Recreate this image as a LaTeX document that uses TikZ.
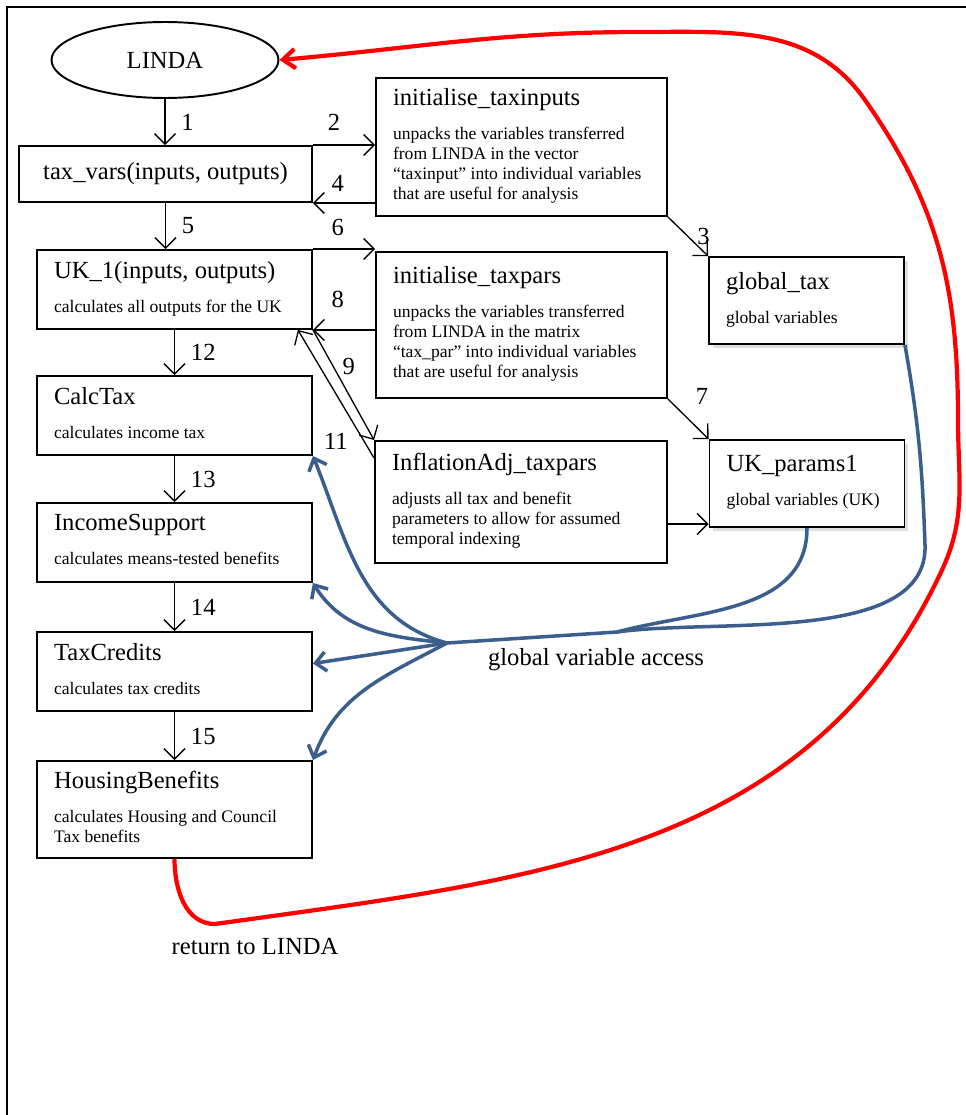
\documentclass[tikz,border=0pt]{standalone}
\usepackage{fontspec}
\setmainfont{Liberation Serif}
\usetikzlibrary{arrows.meta,shapes.geometric,shadows}
\definecolor{accblue}{RGB}{59,94,140}
\tikzstyle{func}=[draw,fill=white,line width=1.1pt,inner xsep=0.34cm,inner ysep=0pt,align=left]
\tikzstyle{colbox}=[func,text width=4.82cm,minimum height=1.58cm]
\tikzstyle{initbox}=[func,text width=5.14cm]
\tikzstyle{globbox}=[func,text width=3.22cm,minimum height=1.74cm,drop shadow={shadow xshift=2pt,shadow yshift=-2pt,opacity=0.25}]
\tikzstyle{flow}=[draw,line width=0.75pt,-{Straight Barb[length=6pt,width=12pt]}]
\tikzstyle{access}=[draw=accblue,line width=2pt,-{Straight Barb[length=6pt,width=11pt]}]
\tikzstyle{retarrow}=[draw=red,line width=2.4pt,-{Straight Barb[length=7pt,width=11pt]}]
\tikzstyle{lbl}=[font=\fontsize{14}{16}\selectfont,inner sep=2pt]
\newcommand{\boxtxt}[2]{{\fontsize{14}{16}\selectfont\spaceskip=0pt\xspaceskip=0pt #1\par}\vspace{8pt}%
  {\fontsize{10}{11.3}\selectfont\spaceskip=0pt\xspaceskip=0pt\begin{tabular}[t]{@{}l@{}}#2\end{tabular}\par}}

\begin{document}
\begin{tikzpicture}[x=0.02cm,y=0.02cm,font=\fontsize{14}{16}\selectfont]
  \useasboundingbox (0,0) rectangle (966,-1115);
  \draw[line width=1.1pt] (7,-1115) -- (7,-7) -- (966,-7);

  % main program and the left column
  \node[draw,ellipse,line width=1.1pt,minimum width=4.54cm,minimum height=1.52cm] (linda) at (165,-60) {LINDA};
  \node[func,minimum width=5.86cm,minimum height=1.12cm] (taxvars) at (165.5,-174) {tax\_vars(inputs, outputs)};
  \foreach \pos/\name/\title/\desc in {{(174.5,-289.5)/uk/{UK\_1(inputs, outputs)}/calculates all outputs for the UK},
                                       {(174.5,-415.5)/calc/CalcTax/calculates income tax},
                                       {(174.5,-542.5)/incsup/IncomeSupport/calculates means-tested benefits},
                                       {(174.5,-671.5)/taxcred/TaxCredits/calculates tax credits}}
    \node[colbox] (\name) at \pos {\boxtxt{\title}{\desc}};
  \node[colbox,minimum height=1.94cm] (hb) at (174.5,-809.5) {\boxtxt{HousingBenefits}{calculates Housing and Council\\Tax benefits}};

  % initialisation routines and globals
  \node[initbox,minimum height=2.76cm] (init1) at (521.5,-147) {\boxtxt{initialise\_taxinputs}{unpacks the variables transferred\\from LINDA in the vector\\“taxinput” into individual variables\\that are useful for analysis}};
  \node[initbox,minimum height=2.92cm] (init2) at (521.5,-325) {\boxtxt{initialise\_taxpars}{unpacks the variables transferred\\from LINDA in the matrix\\“tax\_par” into individual variables\\that are useful for analysis}};
  \node[initbox,text width=5.16cm,minimum height=2.44cm] (infl) at (521,-502) {\boxtxt{InflationAdj\_taxpars}{adjusts all tax and benefit\\parameters to allow for assumed\\temporal indexing}};
  \node[globbox] (globtax) at (806.5,-300.5) {\boxtxt{global\_tax}{global variables}};
  \node[globbox] (ukpar) at (807,-483.5) {\boxtxt{UK\_params1}{global variables (UK)}};

  % numbered calls
  \path[flow] (linda.south) -- node[lbl,right,xshift=7pt] {1} (linda.south |- taxvars.north);
  \path[flow] (taxvars.south) -- node[lbl,right,xshift=7pt] {5} (taxvars.south |- uk.north);
  \foreach \source/\dest/\weight in {uk/calc/12, calc/incsup/13, incsup/taxcred/14, taxcred/hb/15}
    \path[flow] (\source) -- node[lbl,right,xshift=7pt] {\weight} (\dest);

  \path[flow] (taxvars.north east) -- node[lbl,above=6pt,pos=0.34] {2} (taxvars.north east -| init1.west);
  \path[flow] (init1.west |- taxvars.south east) -- node[lbl,above=4pt,pos=0.6] {4} (taxvars.south east);
  \path[flow] (uk.north east) -- node[lbl,above=5pt,pos=0.4] {6} (uk.north east -| init2.west);
  \path[flow] (init2.west |- uk.south east) -- node[lbl,above=10pt,pos=0.6] {8} (uk.south east);
  \path[flow] (init1.south east) -- node[lbl,right=3pt] {3} (globtax.north west);
  \path[flow] (init2.south east) -- node[lbl,above right,xshift=2pt,yshift=6pt] {7} (ukpar.north west);
  \path[flow] (uk.south east) -- node[lbl,right=3pt,pos=0.33] {9} (infl.north west);
  \path[flow] ([yshift=-0.36cm]infl.north west) -- node[lbl,left=7pt,pos=0.13] {11} ([xshift=-0.3cm]uk.south east);
  \coordinate (ukin) at ([yshift=0.08cm]ukpar.south west);
  \path[flow] (infl.east |- ukin) -- (ukin);

  % global variable access
  \coordinate (hub) at (447,-643);
  \coordinate (merge) at (617,-632);
  \draw[access,-] (globtax.south east) to[out=-80,in=92] (925,-545) to[out=-88,in=8,looseness=0.8] (merge) -- (hub);
  \draw[access,-] (ukpar.south) to[out=-90,in=15] (merge);
  \foreach \dest/\o/\i in {calc.south east/165/-68, incsup.south east/174/-58, hb.north east/208/70}
    \draw[access] (hub) to[out=\o,in=\i] (\dest);
  \draw[access] (hub) -- ([yshift=0.16cm]taxcred.east);
  \node[lbl] (gva) at (596,-660) {global variable access};

  % return to LINDA
  \draw[retarrow] (hb.south) to[out=-90,in=180] (215,-924) to[out=8,in=-115] (942,-570) to[out=65,in=-90] (958,-420)
    to[out=90,in=-55] (865,-100) to[out=125,in=0] (640,-32) to[out=180,in=5] (linda.east);
  \node[lbl] (ret) at (255,-946) {return to LINDA};
\end{tikzpicture}
\end{document}
